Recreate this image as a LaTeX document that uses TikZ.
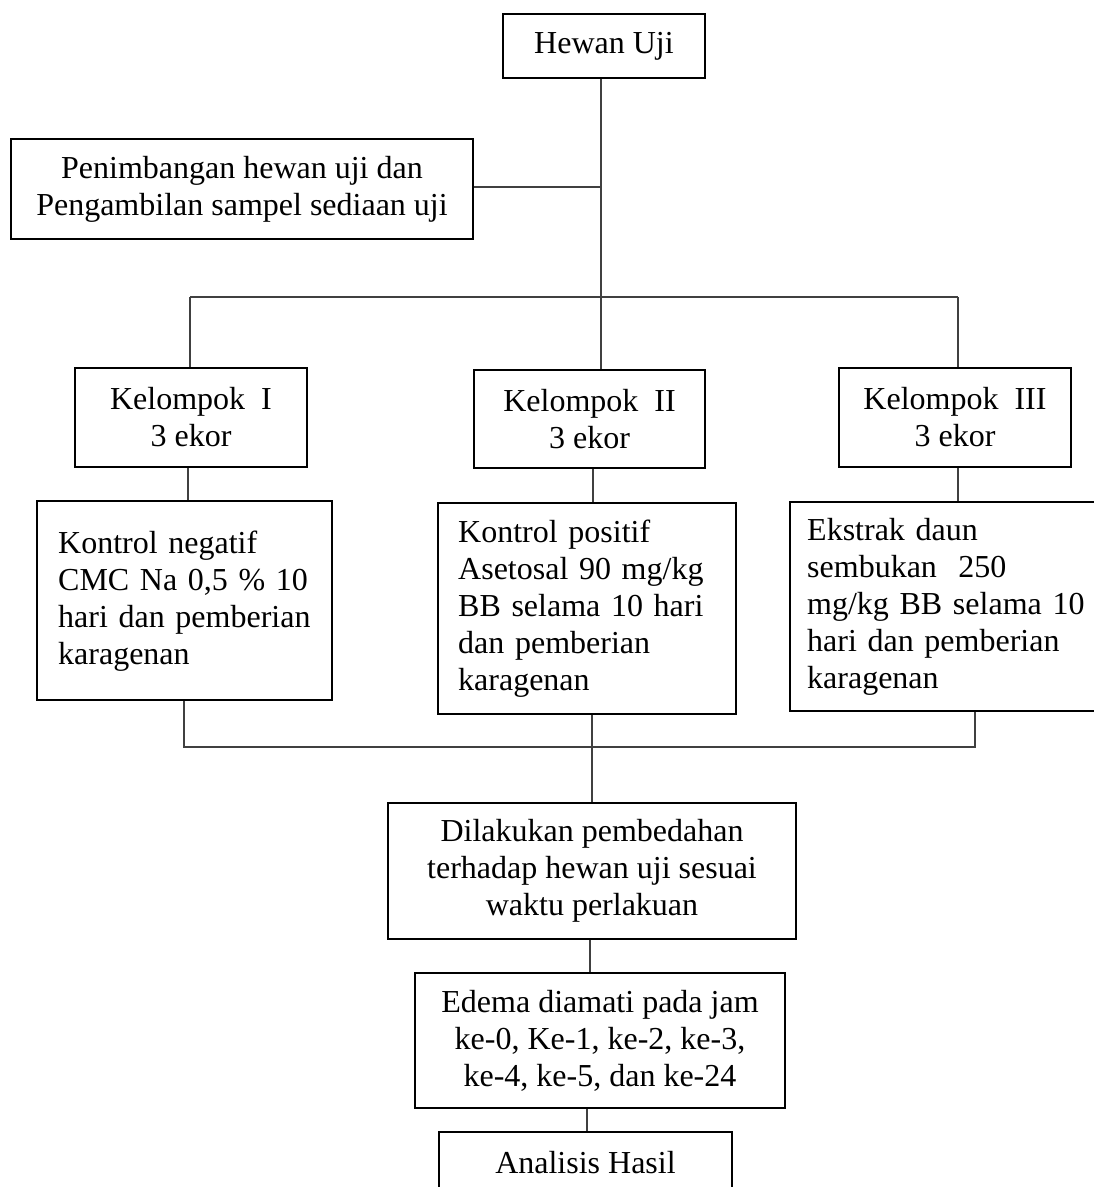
\documentclass[tikz,border=0pt]{standalone}
\usepackage{fontspec}
\setmainfont{Liberation Serif}
\begin{document}
\begin{tikzpicture}[x=1pt,y=-1pt,
  box/.style={draw=black, line width=2.4pt, rectangle, font=\fontsize{32}{37}\selectfont, align=center, inner sep=0pt},
  lbox/.style={box, align=left, anchor=north west},
  conn/.style={draw=black!75, line width=1.4pt}]
\useasboundingbox[fill=white] (0,0) rectangle (1094,1187);

% boxes
\node[box, minimum width=202pt, minimum height=64pt] (hewan) at (604,46) {Hewan Uji};
\node[box, minimum width=462pt, minimum height=100pt] (timbang) at (242,189) {Penimbangan hewan uji dan\\Pengambilan sampel sediaan uji};
\node[box, minimum width=232pt, minimum height=99pt] (k1) at (191,417.5) {Kelompok\ \ I\\3 ekor};
\node[box, minimum width=231pt, minimum height=98pt] (k2) at (589.5,419) {Kelompok\ \ II\\3 ekor};
\node[box, minimum width=232pt, minimum height=99pt] (k3) at (955,417.5) {Kelompok\ \ III\\3 ekor};
\node[lbox, inner xsep=21pt, text width=253pt, minimum height=199pt] (n1) at (36,500) {Kontrol negatif\\CMC Na 0,5 \% 10\\hari dan pemberian\\karagenan};
\node[lbox, inner xsep=20pt, text width=258pt, minimum height=211pt] (n2) at (437,502) {Kontrol positif\\Asetosal 90 mg/kg\\BB selama 10 hari\\dan pemberian\\karagenan};
\node[lbox, inner xsep=17pt, text width=287pt, minimum height=209pt] (n3) at (789,501) {Ekstrak daun\\sembukan\ \ 250\\mg/kg BB selama 10\\hari dan pemberian\\karagenan};
\node[box, minimum width=408pt, minimum height=136pt] (dil) at (592,871) {Dilakukan pembedahan\\terhadap hewan uji sesuai\\waktu perlakuan};
\node[box, minimum width=370pt, minimum height=135pt] (ede) at (600,1040.5) {Edema diamati pada jam\\ke-0, Ke-1, ke-2, ke-3,\\ke-4, ke-5, dan ke-24};
\node[box, minimum width=293pt, minimum height=62pt] (ana) at (585.5,1163) {Analisis Hasil};

% junction coordinates
\coordinate (trunk) at (601,297);
\coordinate (hl) at (190,297);
\coordinate (hr) at (958,297);
\coordinate (bl) at (184,747);
\coordinate (bm) at (592,747);
\coordinate (br) at (975,747);

% connectors
\draw[conn] (hewan.south -| trunk) -- (trunk);
\draw[conn] (timbang.east |- 0,187) -- (601,187);
\draw[conn] (hl) -- (hr);
\draw[conn] (hl) -- (hl |- k1.north);
\draw[conn] (hr) -- (hr |- k3.north);
\draw[conn] (trunk) -- (trunk |- k2.north);
\draw[conn] (k1.south -| 188,0) -- (n1.north -| 188,0);
\draw[conn] (k2.south -| 593,0) -- (n2.north -| 593,0);
\draw[conn] (k3.south -| hr) -- (n3.north -| hr);
\draw[conn] (n1.south -| bl) -- (bl) -- (br) -- (n3.south -| br);
\draw[conn] (n2.south -| bm) -- (dil.north -| bm);
\draw[conn] (dil.south -| 590,0) -- (ede.north -| 590,0);
\draw[conn] (ede.south -| 587,0) -- (ana.north -| 587,0);
\end{tikzpicture}
\end{document}
